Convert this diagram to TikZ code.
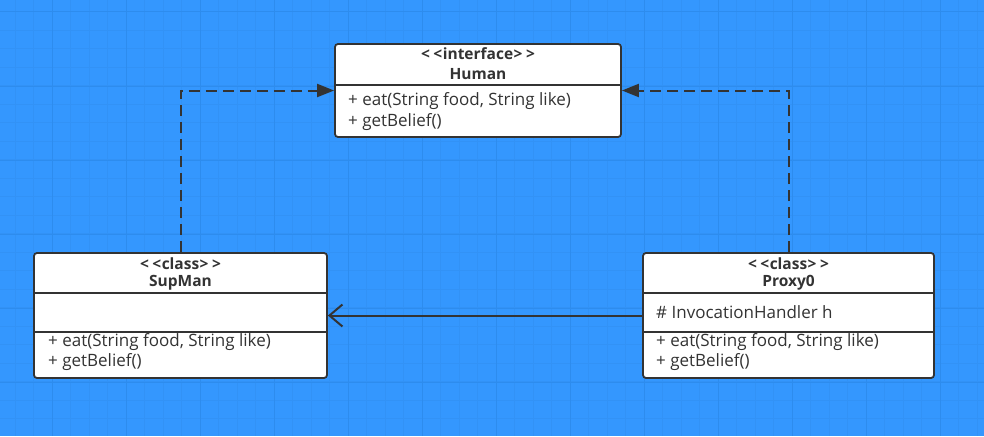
\documentclass[tikz,border=0pt]{standalone}
\usepackage{fontspec}
\setmainfont{Open Sans}
\usetikzlibrary{arrows.meta}
\definecolor{bgblue}{HTML}{3497FE}
\definecolor{gridminor}{HTML}{3292F6}
\definecolor{gridmajor}{HTML}{2D8CEE}
\definecolor{umlline}{HTML}{333333}
\newcommand{\stlt}{\mbox{<}\hspace{3.5pt}\mbox{<}\hspace{0.5pt}}
\newcommand{\stgt}{\hspace{0.5pt}\mbox{>}\hspace{3.5pt}\mbox{>}}
\tikzset{
  umlbox/.style={draw=umlline, line width=1.8pt, fill=white, rounded corners=3pt, inner sep=0pt},
  stereo/.style={font=\fontsize{15.5}{18}\selectfont\bfseries, text=umlline, inner sep=0pt},
  member/.style={font=\fontsize{17}{19}\selectfont, text=umlline, anchor=west, inner sep=0pt},
  divider/.style={draw=umlline, line width=1.8pt},
  realize/.style={draw=umlline, line width=2pt, dash pattern=on 11pt off 6pt, -{Triangle[length=17pt,width=13pt]}},
  assoc/.style={draw=umlline, line width=2pt, -{Straight Barb[length=13pt,width=22pt,line width=2pt]}}
}
\begin{document}
\begin{tikzpicture}[x=1pt,y=-1pt]
\fill[bgblue] (0,0) rectangle (984,436);
\useasboundingbox (0,0) rectangle (984,436);
% grid
\foreach \i in {0,...,53} {
  \draw[gridminor, line width=0.7pt] ({15+18.5*\i},0) -- ({15+18.5*\i},436);
}
\foreach \j in {0,...,23} {
  \draw[gridminor, line width=0.7pt] (0,{-6.8+18.5*\j}) -- (984,{-6.8+18.5*\j});
}
\foreach \i in {0,...,13} {
  \draw[gridmajor, line width=1pt] ({52+74*\i},0) -- ({52+74*\i},436);
}
\foreach \j in {0,...,5} {
  \draw[gridmajor, line width=1pt] (0,{12+74*\j}) -- (984,{12+74*\j});
}

% Human
\node[umlbox, minimum width=286pt, minimum height=93pt] (human) at (478,90.5) {};
\draw[divider] (335,85) -- (621,85);
\node[stereo] (humanst) at (478,54) {\stlt interface\stgt};
\node[stereo] (humanname) at (478,74) {Human};
\node[member] (humanm1) at (348,101) {+ eat(String food, String like)};
\node[member] (humanm2) at (348,122) {+ getBelief()};

% SupMan
\node[umlbox, minimum width=293pt, minimum height=125pt] (supman) at (180.5,315.5) {};
\draw[divider] (34,293) -- (327,293);
\draw[divider] (34,332) -- (327,332);
\node[stereo] (supst) at (180.5,264) {\stlt class\stgt};
\node[stereo] (supname) at (180.5,283) {SupMan};
\node[member] (supm1) at (48,342) {+ eat(String food, String like)};
\node[member] (supm2) at (48,362) {+ getBelief()};

% Proxy0
\node[umlbox, minimum width=291pt, minimum height=125pt] (proxy) at (788.5,315.5) {};
\draw[divider] (643,293) -- (934,293);
\draw[divider] (643,332) -- (934,332);
\node[stereo] (proxst) at (788.5,264) {\stlt class\stgt};
\node[stereo] (proxname) at (788.5,283) {Proxy0};
\node[member] (proxa1) at (656,312) {\# InvocationHandler h};
\node[member] (proxm1) at (656,342) {+ eat(String food, String like)};
\node[member] (proxm2) at (656,362) {+ getBelief()};

% connectors
\draw[realize] (supman.north) |- (human.west);
\draw[realize] (proxy.north) |- (human.east);
\draw[assoc] (proxy.west) -- (supman.east);
\end{tikzpicture}
\end{document}
